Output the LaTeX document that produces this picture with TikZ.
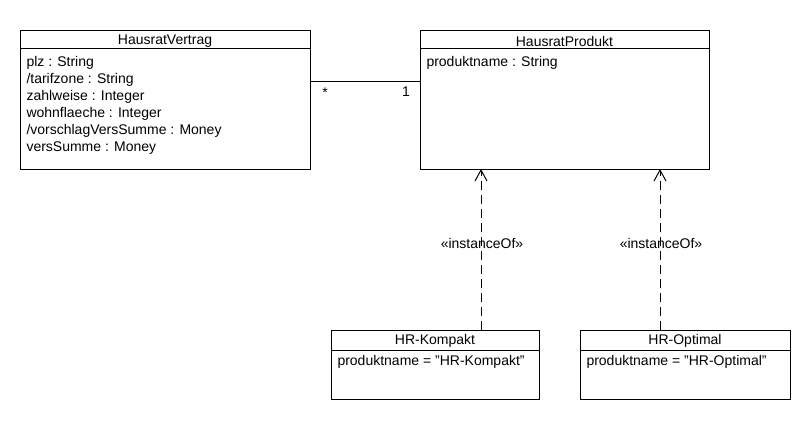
\documentclass[tikz,border=0pt]{standalone}
\usepackage{fontspec}
\setmainfont{Liberation Sans}
\usetikzlibrary{arrows.meta}
\newcommand{\dq}{\symbol{34}}
\begin{document}
\begin{tikzpicture}[x=1pt,y=-1pt,line width=1pt,
  umlbox/.style={draw,anchor=north west,inner sep=0pt},
  title/.style={anchor=center,inner sep=0pt,font=\fontsize{14}{16}\selectfont},
  attr/.style={anchor=west,inner sep=0pt,font=\fontsize{14}{16}\selectfont},
  dep/.style={dash pattern=on 9pt off 5pt,-{Straight Barb[length=11pt,width=12pt,line width=1pt]}}]
\useasboundingbox (0,0) rectangle (810,420);
% HausratVertrag
\node[umlbox,minimum width=290pt,minimum height=139pt] (hv) at (20,30) {};
\draw (hv.north west) ++(0,19) -- ++(290,0);
\node[title] (hvt) at (165,41) {HausratVertrag};
\node[attr] (hv1) at (26,63) {plz : String};
\node[attr] (hv2) at (26,80) {/tarifzone : String};
\node[attr] (hv3) at (26,97) {zahlweise : Integer};
\node[attr] (hv4) at (26,114) {wohnflaeche : Integer};
\node[attr] (hv5) at (26,131) {/vorschlagVersSumme : Money};
\node[attr] (hv6) at (26,148) {versSumme : Money};
% HausratProdukt
\node[umlbox,minimum width=289pt,minimum height=139pt] (hp) at (420,30) {};
\draw (hp.north west) ++(0,19) -- ++(289,0);
\node[title] (hpt) at (564.5,41) {HausratProdukt};
\node[attr] (hp1) at (426,63) {produktname : String};
% association
\coordinate (a1) at (310,81);
\coordinate (a2) at (420,81);
\draw (a1) -- (a2);
\node[title] (m1) at (325,93) {*};
\node[title] (m2) at (406,92) {1};
% HR-Kompakt
\node[umlbox,minimum width=208pt,minimum height=69pt] (hk) at (331,330) {};
\draw (hk.north west) ++(0,20.5) -- ++(208,0);
\node[title] (hkt) at (435,341) {HR-Kompakt};
\node[attr] (hk1) at (337,362) {produktname = \dq HR-Kompakt\dq};
% HR-Optimal
\node[umlbox,minimum width=210pt,minimum height=69pt] (ho) at (580,330) {};
\draw (ho.north west) ++(0,20.5) -- ++(210,0);
\node[title] (hot) at (685,341) {HR-Optimal};
\node[attr] (ho1) at (586,362) {produktname = \dq HR-Optimal\dq};
% dependencies
\coordinate (k1) at (481,330);
\coordinate (k2) at (481,169);
\coordinate (o1) at (660,330);
\coordinate (o2) at (660,169);
\draw[dep] (k1) -- (k2);
\draw[dep] (o1) -- (o2);
\node[title] (l1) at (482,243) {«instanceOf»};
\node[title] (l2) at (661,243) {«instanceOf»};
\end{tikzpicture}
\end{document}
